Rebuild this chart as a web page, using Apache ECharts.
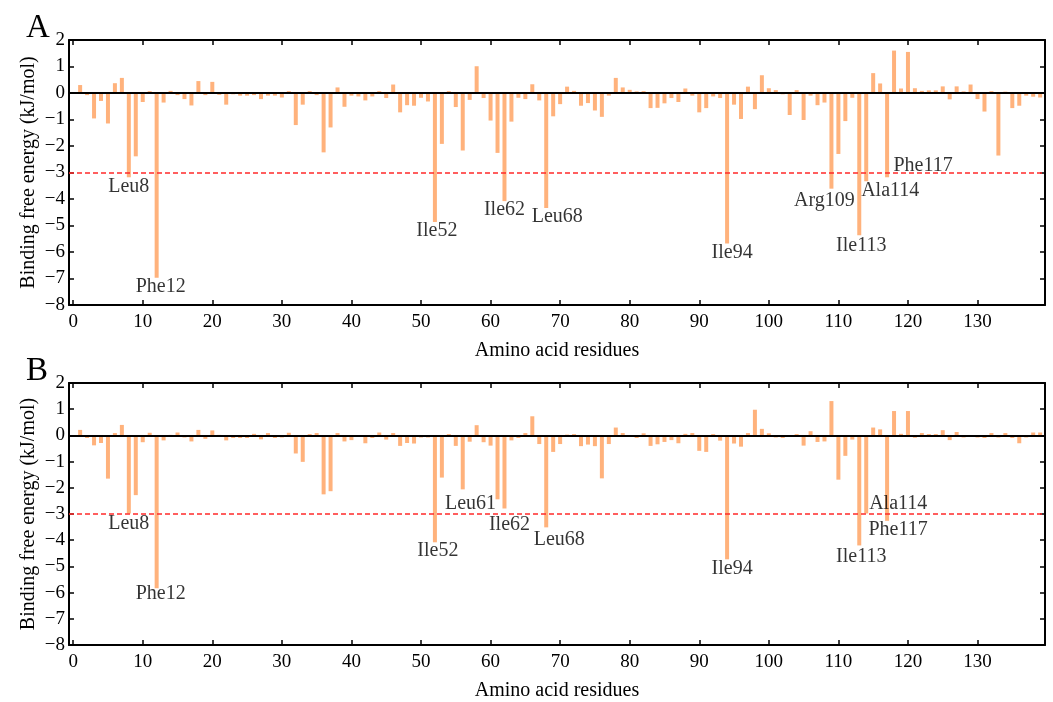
<!DOCTYPE html>
<html>
<head>
    <meta charset="utf-8">
    <title>ECharts</title>
    <script src="https://cdn.jsdelivr.net/npm/echarts@6/dist/echarts.min.js"></script>
</head>
<body style="margin:0">
    <div id="main" style="width: 1053px;height:702px;"></div>
    <script type="text/javascript">
        // residue energies, panel A and panel B (kJ/mol), residues 1..139
        var energyA = [
            0.3, -0.08, -0.96, -0.3, -1.15, 0.37, 0.57, -3.18, -2.39, -0.34,
            0.07, -6.97, -0.36, 0.08, -0.08, -0.23, -0.47, 0.45, -0.08, 0.42,
            -0.07, -0.44, -0.05, -0.1, -0.1, -0.08, -0.23, -0.1, -0.1, -0.17,
            0.07, -1.21, -0.44, 0.07, -0.08, -2.24, -1.3, 0.21, -0.52, -0.1,
            -0.13, -0.28, -0.13, 0.07, -0.19, 0.32, -0.73, -0.46, -0.48, -0.18,
            -0.32, -4.87, -1.92, 0.07, -0.53, -2.17, -0.26, 1.01, -0.19, -1.04,
            -2.26, -4.08, -1.08, -0.18, -0.23, 0.33, -0.28, -4.34, -0.88, -0.42,
            0.24, 0.08, -0.48, -0.38, -0.66, -0.9, -0.1, 0.57, 0.21, 0.12,
            0.06, 0.07, -0.57, -0.56, -0.39, -0.19, -0.34, 0.17, -0.1, -0.73,
            -0.57, -0.13, -0.19, -5.68, -0.44, -0.98, 0.24, -0.61, 0.67, 0.18,
            0.11, -0.05, -0.83, 0.11, -1.02, -0.1, -0.46, -0.36, -3.61, -2.3,
            -1.06, -0.18, -5.37, -3.33, 0.75, 0.36, -3.18, 1.6, 0.17, 1.55,
            0.18, 0.08, 0.1, 0.1, 0.25, -0.24, 0.25, 0.06, 0.32, -0.23,
            -0.7, 0.07, -2.36, 0.05, -0.57, -0.48, -0.1, -0.14, -0.17
        ];
        var energyB = [
            0.21, -0.1, -0.38, -0.29, -1.65, 0.09, 0.4, -2.98, -2.28, -0.26,
            0.1, -5.83, -0.19, 0.02, 0.11, -0.08, -0.23, 0.21, -0.13, 0.19,
            0.02, -0.19, -0.1, -0.1, -0.1, 0.06, -0.15, 0.09, -0.1, -0.08,
            0.1, -0.69, -1.01, 0.05, 0.09, -2.25, -2.13, 0.09, -0.23, -0.18,
            -0.05, -0.3, -0.1, 0.11, -0.16, 0.09, -0.4, -0.29, -0.31, -0.08,
            -0.08, -4.08, -1.61, 0.05, -0.4, -2.06, -0.24, 0.39, -0.26, -0.39,
            -2.44, -2.79, -0.19, -0.1, 0.09, 0.73, -0.33, -3.51, -0.63, -0.33,
            0.03, 0.05, -0.41, -0.35, -0.41, -1.64, -0.33, 0.3, 0.09, -0.06,
            -0.1, 0.08, -0.4, -0.34, -0.25, -0.18, -0.3, 0.06, 0.09, -0.59,
            -0.63, 0.05, -0.2, -4.73, -0.31, -0.43, 0.09, 0.98, 0.25, 0.08,
            -0.08, -0.1, -0.05, 0.05, -0.39, 0.16, -0.25, -0.23, 1.31, -1.69,
            -0.78, -0.16, -4.2, -2.98, 0.3, 0.23, -3.26, 0.93, 0.06, 0.93,
            -0.09, 0.09, 0.05, 0.05, 0.2, -0.18, 0.13, -0.08, -0.05, -0.08,
            -0.1, 0.09, -0.08, 0.09, -0.1, -0.3, -0.08, 0.11, 0.11
        ];
        var xTicks = [0, 10, 20, 30, 40, 50, 60, 70, 80, 90, 100, 110, 120, 130];
        var hotA = [[8, 'Leu8'], [12, 'Phe12'], [52, 'Ile52'], [62, 'Ile62'], [68, 'Leu68'],
                    [94, 'Ile94'], [109, 'Arg109'], [113, 'Ile113'], [114, 'Ala114'], [117, 'Phe117']];
        var hotB = [[8, 'Leu8'], [12, 'Phe12'], [52, 'Ile52'], [61, 'Leu61'], [62, 'Ile62'],
                    [68, 'Leu68'], [94, 'Ile94'], [113, 'Ile113'], [114, 'Ala114'], [117, 'Phe117']];
        var cutoff = -3;

        // label nudges (px) so names sit where the original put them
        var nudgeA = {8: [0, -1], 12: [4, -1], 52: [2, -1], 62: [0, -1], 68: [11, -1],
                      94: [5, -1], 109: [-7, 2], 113: [2, 0], 114: [24, 0], 117: [36, -22]};
        var nudgeB = {8: [0, 0], 12: [4, -4], 52: [3, -2], 61: [-27, -6], 62: [5, 6],
                      68: [13, 2], 94: [5, -1], 113: [2, 1], 114: [32, -20], 117: [11, -1]};

        var font = 'Liberation Serif';
        var barColor = '#ffb27c';

        function pairs(vals) {
            var out = [];
            for (var i = 0; i < vals.length; i++) out.push([i + 1, vals[i]]);
            return out;
        }
        function hotPoints(hot, vals, nudge) {
            return hot.map(function (h) {
                return {
                    value: [h[0], vals[h[0] - 1]],
                    name: h[1],
                    label: {offset: nudge[h[0]]}
                };
            });
        }
        function minus(v) {
            return String(v).replace('-', '\u2212');
        }

        function xAx(gi, pos) {
            var bottom = pos === 'bottom';
            return {
                type: 'value', gridIndex: gi, position: pos,
                min: -0.6, max: 139.7,
                splitLine: {show: false},
                axisLine: {onZero: false, lineStyle: {color: '#000', width: 2}},
                axisTick: {show: true, inside: true, length: 5, lineStyle: {color: '#000', width: 1.5},
                           customValues: xTicks},
                axisLabel: {show: bottom, customValues: xTicks, color: '#000', fontFamily: font,
                            fontSize: 19, margin: 8},
                name: bottom ? 'Amino acid residues' : '',
                nameLocation: 'middle', nameGap: 36,
                nameTextStyle: {color: '#000', fontFamily: font, fontSize: 20}
            };
        }
        function yAx(gi, pos) {
            var left = pos === 'left';
            return {
                type: 'value', gridIndex: gi, position: pos,
                min: -8, max: 2, interval: 1,
                splitLine: {show: false},
                axisLine: {onZero: false, lineStyle: {color: '#000', width: 2}},
                axisTick: {show: true, inside: true, length: 5, lineStyle: {color: '#000', width: 1.5}},
                axisLabel: {show: left, color: '#000', fontFamily: font, fontSize: 19, margin: 4,
                            formatter: minus},
                name: left ? 'Binding free energy (kJ/mol)' : '',
                nameLocation: 'middle', nameGap: 30, nameMoveOverlap: false,
                nameTextStyle: {color: '#000', fontFamily: font, fontSize: 20}
            };
        }
        function barSeries(gi, vals) {
            return {
                type: 'bar', xAxisIndex: gi * 2, yAxisIndex: gi * 2,
                data: pairs(vals), barWidth: 4,
                itemStyle: {color: barColor},
                markLine: {
                    silent: true, symbol: 'none', label: {show: false},
                    data: [
                        {yAxis: 0, lineStyle: {color: '#000', width: 2, type: 'solid'}},
                        {yAxis: cutoff, lineStyle: {color: '#ff2a2a', width: 1.5, type: [5, 3]}}
                    ]
                }
            };
        }
        function labelSeries(gi, hot, vals, nudge) {
            return {
                type: 'scatter', xAxisIndex: gi * 2, yAxisIndex: gi * 2,
                symbolSize: 0, silent: true, z: 5,
                data: hotPoints(hot, vals, nudge),
                label: {show: true, position: 'bottom', distance: 0, formatter: '{b}',
                        color: '#000', fontFamily: font, fontSize: 20}
            };
        }

        var myChart = echarts.init(document.getElementById('main'));
        var option = {
            animation: false,
            title: [
                {text: 'A', left: 21, top: 7, textStyle: {fontFamily: font, fontSize: 33, fontWeight: 'normal', color: '#000'}},
                {text: 'B', left: 21, top: 350, textStyle: {fontFamily: font, fontSize: 33, fontWeight: 'normal', color: '#000'}}
            ],
            grid: [
                {left: 69, right: 8, top: 40, height: 265},
                {left: 69, right: 8, top: 383, height: 266}
            ],
            xAxis: [xAx(0, 'bottom'), xAx(0, 'top'), xAx(1, 'bottom'), xAx(1, 'top')],
            yAxis: [yAx(0, 'left'), yAx(0, 'right'), yAx(1, 'left'), yAx(1, 'right')],
            series: [
                barSeries(0, energyA),
                barSeries(1, energyB),
                labelSeries(0, hotA, energyA, nudgeA),
                labelSeries(1, hotB, energyB, nudgeB)
            ]
        };
        myChart.setOption(option);
    </script>
</body>
</html>
